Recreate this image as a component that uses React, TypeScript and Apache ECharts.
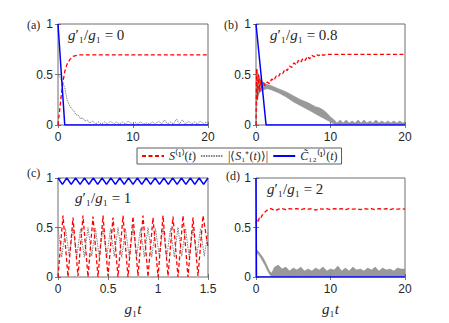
import React, { useEffect, useRef } from "react";
import * as echarts from "echarts";

// ---------- data ----------
const yTicks = [0, 0.5, 1];
const panelLabels = ["(a)", "(b)", "(c)", "(d)"];
const ratioValues = ["0", "0.8", "1", "2"];
const xMaxes = [20, 20, 1.5, 20];
const xIntervals = [10, 10, 0.5, 10];

// (a) g1'/g1 = 0
const aBlue = [[0, 1], [0.9, 0], [20, 0]];
const aRed = [[0, 0], [0.3, 0.2], [0.6, 0.4], [0.9, 0.53], [1.2, 0.6], [1.6, 0.65], [2, 0.68], [2.5, 0.69], [3, 0.695], [20, 0.695]];
const aGray = [[0, 0.5], [0.3, 0.47], [0.6, 0.42], [0.9, 0.37], [1.2, 0.25], [1.5, 0.2], [1.8, 0.16], [2.1, 0.14], [2.4, 0.1], [2.7, 0.1], [3.0, 0.06], [3.3, 0.07], [3.6, 0.04], [3.9, 0.05], [4.2, 0.02], [4.6, 0.04], [5.0, 0.01], [5.4, 0.03], [5.8, 0.01], [6.2, 0.03], [6.6, 0.01], [7.0, 0.04], [7.4, 0.01], [7.8, 0.03], [8.2, 0.01], [8.6, 0.03], [9.0, 0.01], [9.4, 0.04], [9.8, 0.01], [10.2, 0.03], [10.6, 0.01], [11.0, 0.03], [11.4, 0.01], [11.8, 0.02], [12.2, 0.01], [12.6, 0.03], [13.0, 0.01], [13.4, 0.04], [13.8, 0.01], [14.2, 0.05], [14.6, 0.01], [15.0, 0.03], [15.4, 0.01], [15.8, 0.06], [16.2, 0.01], [16.6, 0.05], [17.0, 0.01], [17.4, 0.04], [17.8, 0.01], [18.2, 0.03], [18.6, 0.01], [19.0, 0.04], [19.4, 0.01], [19.8, 0.03], [20, 0.02]];

// (b) g1'/g1 = 0.8
const bBlue = [[0, 1], [1.35, 0], [20, 0]];
const bRed = [[0, 0], [0.08, 0.56], [0.2, 0.25], [0.35, 0.5], [0.5, 0.33], [0.65, 0.45], [0.8, 0.37], [1.0, 0.42], [1.2, 0.39], [1.5, 0.425], [1.8, 0.41], [2.1, 0.455], [2.4, 0.44], [2.7, 0.485], [3.0, 0.475], [3.3, 0.52], [3.6, 0.51], [3.9, 0.555], [4.2, 0.54], [4.5, 0.585], [4.8, 0.57], [5.1, 0.615], [5.4, 0.595], [5.7, 0.64], [6.0, 0.62], [6.3, 0.66], [6.6, 0.64], [6.9, 0.68], [7.2, 0.655], [7.5, 0.69], [7.8, 0.675], [8.1, 0.7], [8.4, 0.685], [8.7, 0.705], [9.0, 0.69], [9.5, 0.7], [20, 0.7]];
// gray band: [t, lower, upper]
const bGrayBand = [[0, 0, 0.5], [0.15, 0.25, 0.55], [0.3, 0.3, 0.5], [0.6, 0.33, 0.46], [1.0, 0.35, 0.42], [1.5, 0.36, 0.4], [2.0, 0.35, 0.39], [3.0, 0.32, 0.36], [4.0, 0.28, 0.33], [5.0, 0.23, 0.29], [6.0, 0.19, 0.25], [7.0, 0.15, 0.22], [7.5, 0.13, 0.2], [8.0, 0.11, 0.18], [8.5, 0.09, 0.17], [9.0, 0.07, 0.15], [9.5, 0.05, 0.12], [10.0, 0.03, 0.08], [10.5, 0.01, 0.05], [10.9, 0.005, 0.02], [11.3, 0.005, 0.05], [11.7, 0.005, 0.02], [12.1, 0.005, 0.05], [12.5, 0.005, 0.02], [12.9, 0.005, 0.04], [13.3, 0.005, 0.02], [13.7, 0.005, 0.05], [14.1, 0.005, 0.02], [14.5, 0.005, 0.05], [14.9, 0.005, 0.02], [15.3, 0.005, 0.04], [15.7, 0.005, 0.02], [16.1, 0.005, 0.05], [16.5, 0.005, 0.02], [16.9, 0.005, 0.04], [17.3, 0.005, 0.02], [17.7, 0.005, 0.04], [18.1, 0.005, 0.02], [18.5, 0.005, 0.04], [18.9, 0.005, 0.02], [19.3, 0.005, 0.04], [19.7, 0.005, 0.02], [20, 0.005, 0.03]];

// (c) g1'/g1 = 1
const cBlue = [[0, 1], [0.044, 0.935], [0.088, 1], [0.132, 0.935], [0.176, 1], [0.221, 0.935], [0.265, 1], [0.309, 0.935], [0.353, 1], [0.397, 0.935], [0.441, 1], [0.485, 0.935], [0.529, 1], [0.574, 0.935], [0.618, 1], [0.662, 0.935], [0.706, 1], [0.75, 0.935], [0.794, 1], [0.838, 0.935], [0.882, 1], [0.926, 0.935], [0.971, 1], [1.015, 0.935], [1.059, 1], [1.103, 0.935], [1.147, 1], [1.191, 0.935], [1.235, 1], [1.279, 0.935], [1.324, 1], [1.368, 0.935], [1.412, 1], [1.456, 0.935], [1.5, 1]];
const cRed = [[0, 0], [0.05, 0.62], [0.1, 0], [0.15, 0.6], [0.2, 0.01], [0.25, 0.62], [0.3, 0], [0.35, 0.61], [0.4, 0], [0.45, 0.62], [0.5, 0.01], [0.55, 0.6], [0.6, 0], [0.65, 0.62], [0.7, 0], [0.75, 0.61], [0.8, 0.01], [0.85, 0.62], [0.9, 0], [0.95, 0.6], [1.0, 0], [1.05, 0.62], [1.1, 0.01], [1.15, 0.61], [1.2, 0], [1.25, 0.62], [1.3, 0], [1.35, 0.6], [1.4, 0.01], [1.45, 0.62], [1.5, 0.3]];
const cGray = [[0, 0.5], [0.0375, 0.2], [0.075, 0.49], [0.1125, 0.21], [0.15, 0.5], [0.1875, 0.2], [0.225, 0.49], [0.2625, 0.2], [0.3, 0.5], [0.3375, 0.21], [0.375, 0.49], [0.4125, 0.2], [0.45, 0.5], [0.4875, 0.2], [0.525, 0.49], [0.5625, 0.21], [0.6, 0.5], [0.6375, 0.2], [0.675, 0.49], [0.7125, 0.2], [0.75, 0.5], [0.7875, 0.21], [0.825, 0.49], [0.8625, 0.2], [0.9, 0.5], [0.9375, 0.2], [0.975, 0.49], [1.0125, 0.21], [1.05, 0.5], [1.0875, 0.2], [1.125, 0.49], [1.1625, 0.2], [1.2, 0.5], [1.2375, 0.21], [1.275, 0.49], [1.3125, 0.2], [1.35, 0.5], [1.3875, 0.2], [1.425, 0.49], [1.4625, 0.21], [1.5, 0.45]];

// (d) g1'/g1 = 2
const dBlue = [[0, 1], [0.06, 0], [20, 0]];
const dRed = [[0, 0.54], [0.15, 0.58], [0.3, 0.56], [0.45, 0.6], [0.6, 0.59], [0.8, 0.62], [1.0, 0.64], [1.2, 0.655], [1.4, 0.67], [1.6, 0.68], [1.8, 0.685], [2.0, 0.69], [2.3, 0.68], [2.6, 0.67], [3.0, 0.685], [3.5, 0.69], [4.0, 0.68], [4.5, 0.69], [5.0, 0.685], [5.5, 0.69], [6.0, 0.68], [6.5, 0.69], [7.0, 0.685], [7.5, 0.69], [8.0, 0.675], [8.5, 0.69], [9.0, 0.685], [9.5, 0.69], [10.0, 0.68], [10.5, 0.69], [11.0, 0.685], [11.5, 0.69], [12.0, 0.68], [12.5, 0.69], [13.0, 0.685], [13.5, 0.69], [14.0, 0.68], [14.5, 0.69], [15.0, 0.685], [15.5, 0.69], [16.0, 0.68], [16.5, 0.69], [17.0, 0.685], [17.5, 0.69], [18.0, 0.68], [18.5, 0.69], [19.0, 0.685], [19.5, 0.69], [20, 0.685]];
const dGrayBand = [[0, 0.25, 0.28], [0.3, 0.23, 0.26], [0.6, 0.2, 0.23], [0.9, 0.16, 0.2], [1.2, 0.12, 0.16], [1.5, 0.07, 0.11], [1.8, 0.03, 0.06], [2.1, 0, 0.04], [2.5, 0, 0.1], [3.0, 0.01, 0.12], [3.5, 0, 0.08], [4.0, 0.01, 0.1], [4.5, 0, 0.06], [5.0, 0.01, 0.09], [5.5, 0, 0.07], [6.0, 0.01, 0.1], [6.5, 0, 0.06], [7.0, 0.01, 0.08], [7.5, 0, 0.06], [8.0, 0.01, 0.09], [8.5, 0, 0.07], [9.0, 0.01, 0.1], [9.5, 0, 0.06], [10.0, 0.01, 0.08], [10.5, 0, 0.07], [11.0, 0.01, 0.11], [11.5, 0, 0.06], [12.0, 0.01, 0.09], [12.5, 0, 0.06], [13.0, 0.01, 0.1], [13.5, 0, 0.07], [14.0, 0.01, 0.08], [14.5, 0, 0.06], [15.0, 0.01, 0.09], [15.5, 0, 0.07], [16.0, 0.01, 0.1], [16.5, 0, 0.06], [17.0, 0.01, 0.09], [17.5, 0, 0.07], [18.0, 0.01, 0.08], [18.5, 0, 0.06], [19.0, 0.01, 0.09], [19.5, 0, 0.08], [20, 0.01, 0.08]];

// ---------- styling ----------
const RED = "#ff0000";
const BLUE = "#0000ff";
const GRAY = "#808080";
const TXT = "#262626";
const SERIF = "Liberation Serif";
const SANS = "Liberation Sans";

const grids = [
  { left: 58, top: 24, width: 150, height: 101 },
  { left: 256, top: 24, width: 149, height: 101 },
  { left: 58, top: 178, width: 150, height: 99 },
  { left: 256, top: 178, width: 149, height: 99 },
];
const panelLabelPos = [[27, 25], [224, 25], [27, 173], [226, 176]];
const annotPos = [[68, 35], [270, 35], [75, 198], [267, 189]];

const mathRich = {
  it: { fontFamily: SERIF, fontStyle: "italic", fontSize: 15, color: TXT },
  n: { fontFamily: SERIF, fontStyle: "normal", fontSize: 15, color: TXT },
};
const legendRich = {
  it: { fontFamily: SERIF, fontStyle: "italic", fontSize: 12, color: TXT },
  n: { fontFamily: SERIF, fontStyle: "normal", fontSize: 12, color: TXT },
};
const legendText: Record<string, string> = {
  S: "{it|S}{n|⁽¹⁾(}{it|t}{n|)}",
  Sp: "{n||⟨}{it|S}{n|₁⁺(}{it|t}{n|)⟩|}",
  C: "{it|C̃}{n|₁₂⁽¹⁾(}{it|t}{n|)}",
};

function lineSeries(name: string, gi: number, data: number[][], color: string, type: any, width: number, z: number) {
  return {
    type: "line",
    name,
    xAxisIndex: gi,
    yAxisIndex: gi,
    data,
    symbol: "none",
    showSymbol: false,
    clip: true,
    z,
    lineStyle: { color, type, width },
    itemStyle: { color },
  };
}

function bandSeries(gi: number, pts: number[][]) {
  return {
    type: "custom",
    name: "band" + gi,
    xAxisIndex: gi,
    yAxisIndex: gi,
    data: [[0, 0]],
    clip: true,
    silent: true,
    z: 1,
    renderItem: (_p: any, api: any) => {
      const up = pts.map((p) => api.coord([p[0], p[2]]));
      const lo = pts.slice().reverse().map((p) => api.coord([p[0], p[1]]));
      return {
        type: "polygon",
        shape: { points: up.concat(lo) },
        style: { fill: "#8e8e8e", stroke: "#8e8e8e", lineWidth: 0.6, opacity: 0.9 },
      };
    },
  };
}

export default function App() {
  const ref = useRef<HTMLDivElement>(null);
  useEffect(() => {
    if (!ref.current) return;
    const chart = echarts.init(ref.current, undefined, { renderer: "svg" });

    const xAxes: any[] = [];
    const yAxes: any[] = [];
    const tickStyle = { show: true, inside: true, length: 3, lineStyle: { color: "#555", width: 0.8 } };
    for (let i = 0; i < 4; i++) {
      xAxes.push({
        type: "value",
        gridIndex: i,
        min: 0,
        max: xMaxes[i],
        interval: xIntervals[i],
        position: "bottom",
        axisLine: { show: false },
        axisTick: tickStyle,
        splitLine: { show: false },
        axisLabel: { color: TXT, fontSize: 12, fontFamily: SANS, margin: 6 },
        name: i >= 2 ? "{it|g}{n|₁}{it|t}" : "",
        nameLocation: "middle",
        nameGap: 24,
        nameTextStyle: { fontFamily: SERIF, fontSize: 15, rich: mathRich },
      });
      yAxes.push({
        type: "value",
        gridIndex: i,
        min: 0,
        max: 1,
        interval: 0.5,
        position: "left",
        axisLine: { show: false },
        axisTick: tickStyle,
        splitLine: { show: false },
        axisLabel: {
          color: TXT,
          fontSize: 12,
          fontFamily: SANS,
          margin: 5,
          formatter: (v: number) => (yTicks.includes(v) ? String(v) : ""),
        },
      });
    }
    for (let i = 0; i < 4; i++) {
      xAxes.push({
        type: "value",
        gridIndex: i,
        min: 0,
        max: xMaxes[i],
        interval: xIntervals[i],
        position: "top",
        axisLine: { show: false },
        axisTick: tickStyle,
        splitLine: { show: false },
        axisLabel: { show: false },
      });
      yAxes.push({
        type: "value",
        gridIndex: i,
        min: 0,
        max: 1,
        interval: 0.5,
        position: "right",
        axisLine: { show: false },
        axisTick: tickStyle,
        splitLine: { show: false },
        axisLabel: { show: false },
      });
    }

    const redDash = [4, 2.5];
    const grayDot = [1.5, 1];
    const series: any[] = [
      lineSeries("Sp", 0, aGray, GRAY, grayDot, 1, 2),
      lineSeries("S", 0, aRed, RED, redDash, 1.3, 3),
      lineSeries("C", 0, aBlue, BLUE, "solid", 1.5, 4),
      bandSeries(1, bGrayBand),
      lineSeries("S", 1, bRed, RED, redDash, 1.3, 3),
      lineSeries("C", 1, bBlue, BLUE, "solid", 1.5, 4),
      lineSeries("Sp", 2, cGray, GRAY, grayDot, 1, 2),
      lineSeries("S", 2, cRed, RED, redDash, 1.3, 3),
      lineSeries("C", 2, cBlue, BLUE, "solid", 1.5, 4),
      bandSeries(3, dGrayBand),
      lineSeries("S", 3, dRed, RED, redDash, 1.3, 3),
      lineSeries("C", 3, dBlue, BLUE, "solid", 1.5, 4),
    ];

    const graphics: any[] = [];
    for (let i = 0; i < 4; i++) {
      graphics.push({
        type: "text",
        x: panelLabelPos[i][0],
        y: panelLabelPos[i][1],
        style: {
          text: panelLabels[i],
          fontFamily: SERIF,
          fontSize: 12,
          fill: TXT,
          verticalAlign: "middle",
          align: "left",
        },
        z: 10,
      });
      graphics.push({
        type: "text",
        x: annotPos[i][0],
        y: annotPos[i][1],
        style: {
          text: "{it|g}{n|′₁/}{it|g}{n|₁ = " + ratioValues[i] + "}",
          fontFamily: SERIF,
          fontSize: 15,
          rich: mathRich,
          fill: TXT,
          verticalAlign: "middle",
          align: "left",
        },
        z: 10,
      });
    }

    chart.setOption({
      animation: false,
      backgroundColor: "#ffffff",
      grid: grids.map((g) => ({
        ...g,
        show: true,
        borderColor: "#6e6e6e",
        borderWidth: 1,
        backgroundColor: "transparent",
        containLabel: false,
      })),
      xAxis: xAxes,
      yAxis: yAxes,
      legend: {
        data: ["S", "Sp", "C"],
        left: 137,
        top: 148,
        orient: "horizontal",
        padding: [2, 4, 2, 4],
        itemGap: 4,
        itemWidth: 22,
        itemHeight: 10,
        borderColor: "#333",
        borderWidth: 0.8,
        backgroundColor: "#ffffff",
        selectedMode: false,
        itemStyle: { opacity: 0, borderWidth: 0 },
        textStyle: { fontSize: 12, fontFamily: SERIF, color: TXT, rich: legendRich },
        formatter: (n: string) => legendText[n] || n,
      },
      graphic: graphics,
      series,
    });

    return () => chart.dispose();
  }, []);

  return (
    <div
      ref={ref}
      style={{ position: "fixed", left: 0, top: 0, width: 449, height: 323, background: "#fff" }}
    />
  );
}
